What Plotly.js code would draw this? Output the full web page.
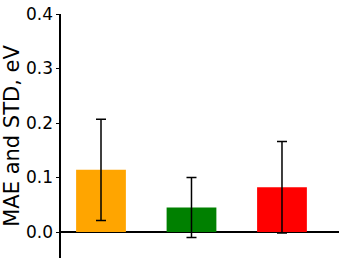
<!DOCTYPE html>
<html><head><meta charset="utf-8">
<script src="https://cdn.plot.ly/plotly-3.0.1.min.js"></script>
<style>html,body{margin:0;padding:0;background:#fff}</style>
</head><body><div id="chart" style="width:357px;height:268px"></div>
<script>
const categories = ["A", "B", "C"];
const mae = [0.114, 0.045, 0.082];
const std = [0.093, 0.055, 0.084];
const colors = ["#FFA500", "#008000", "#FF0000"];
const yTicks = [0.0, 0.1, 0.2, 0.3, 0.4];

Plotly.newPlot("chart", [{
  type: "bar",
  x: [0, 1, 2],
  y: mae,
  width: 0.55,
  marker: {color: colors, line: {width: 0}},
  error_y: {type: "data", array: std, visible: true, color: "#000", thickness: 1.5, width: 5},
  hoverinfo: "none"
}], {
  width: 357, height: 268,
  margin: {l: 61, r: 18, t: 14, b: 10},
  paper_bgcolor: "#fff", plot_bgcolor: "#fff",
  showlegend: false,
  font: {family: "DejaVu Sans", color: "#000"},
  xaxis: {range: [-0.442, 2.63], showticklabels: false, ticks: "", showgrid: false, zeroline: false, showline: false},
  yaxis: {
    range: [-0.0477, 0.4], tickvals: yTicks, tickformat: ".1f",
    ticks: "outside", ticklen: 3, tickwidth: 1, tickcolor: "#000",
    showline: true, linecolor: "#000", linewidth: 1.6,
    showgrid: false, zeroline: true, zerolinecolor: "#000", zerolinewidth: 1.6,
    tickfont: {size: 17, family: "DejaVu Sans"},
    title: {text: "MAE and STD, eV", font: {size: 21, family: "DejaVu Sans"}, standoff: 5}
  }
}, {staticPlot: true});
</script></body></html>
